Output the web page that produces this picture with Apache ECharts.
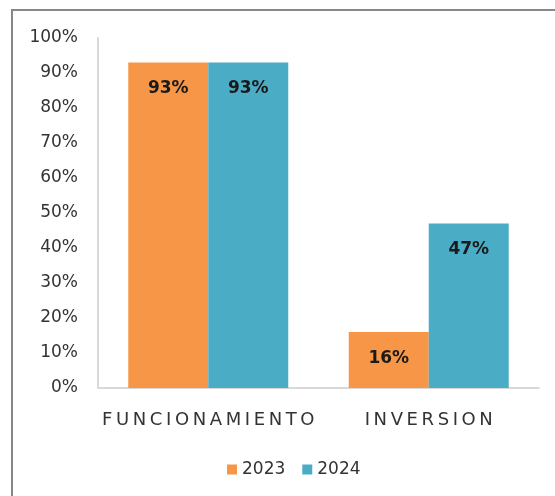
<!DOCTYPE html>
<html>
<head>
<meta charset="utf-8">
<script src="https://cdn.jsdelivr.net/npm/echarts@6/dist/echarts.min.js"></script>
<style>
html,body{margin:0;padding:0;background:#fff;}
#chart{width:555px;height:496px;}
</style>
</head>
<body>
<div id="chart"></div>
<script>
var categories = ['FUNCIONAMIENTO', 'INVERSION'];
var seriesNames = ['2023', '2024'];
var values2023 = [93, 16];
var values2024 = [93, 47];
var yTicks = [0, 10, 20, 30, 40, 50, 60, 70, 80, 90, 100];

var chart = echarts.init(document.getElementById('chart'), null, {renderer: 'canvas'});
var font = 'DejaVu Sans';
function spaced(s) { return s.split('').join('\u2009'); }
var labelCfg = {
  show: true,
  position: 'insideTop',
  distance: 18,
  formatter: '{c}%',
  fontFamily: font,
  fontWeight: 'bold',
  fontSize: 17,
  color: '#1a1a1a'
};
chart.setOption({
  animation: false,
  backgroundColor: '#fff',
  graphic: [{
    type: 'rect',
    shape: {x: 12, y: 10, width: 800, height: 800},
    style: {fill: 'none', stroke: '#878787', lineWidth: 2},
    silent: true
  }],
  grid: {left: 98, right: 16, top: 38, bottom: 108},
  legend: {
    data: seriesNames,
    left: 222,
    top: 456,
    itemWidth: 10,
    itemHeight: 10,
    itemGap: 17,
    icon: 'rect',
    textStyle: {fontFamily: font, fontSize: 17, color: '#333'}
  },
  xAxis: {
    type: 'category',
    data: categories,
    axisLine: {show: true, lineStyle: {color: '#d9d9d9', width: 2}},
    axisTick: {show: false},
    axisLabel: {
      interval: 0,
      hideOverlap: false,
      formatter: function (v) { return spaced(v); },
      fontFamily: font, fontSize: 18, color: '#333', margin: 23
    }
  },
  yAxis: {
    type: 'value',
    min: yTicks[0],
    max: yTicks[yTicks.length - 1],
    interval: 10,
    splitLine: {show: false},
    axisLine: {show: true, lineStyle: {color: '#d9d9d9', width: 2}},
    axisTick: {show: false},
    axisLabel: {
      formatter: '{value}%',
      fontFamily: font, fontSize: 17, color: '#333', margin: 20
    }
  },
  series: [{
    name: seriesNames[0],
    type: 'bar',
    data: values2023,
    barWidth: 80,
    barGap: '0%',
    itemStyle: {color: '#F79646'},
    label: labelCfg
  }, {
    name: seriesNames[1],
    type: 'bar',
    data: values2024,
    barWidth: 80,
    barGap: '0%',
    itemStyle: {color: '#4BACC6'},
    label: labelCfg
  }]
});
</script>
</body>
</html>
